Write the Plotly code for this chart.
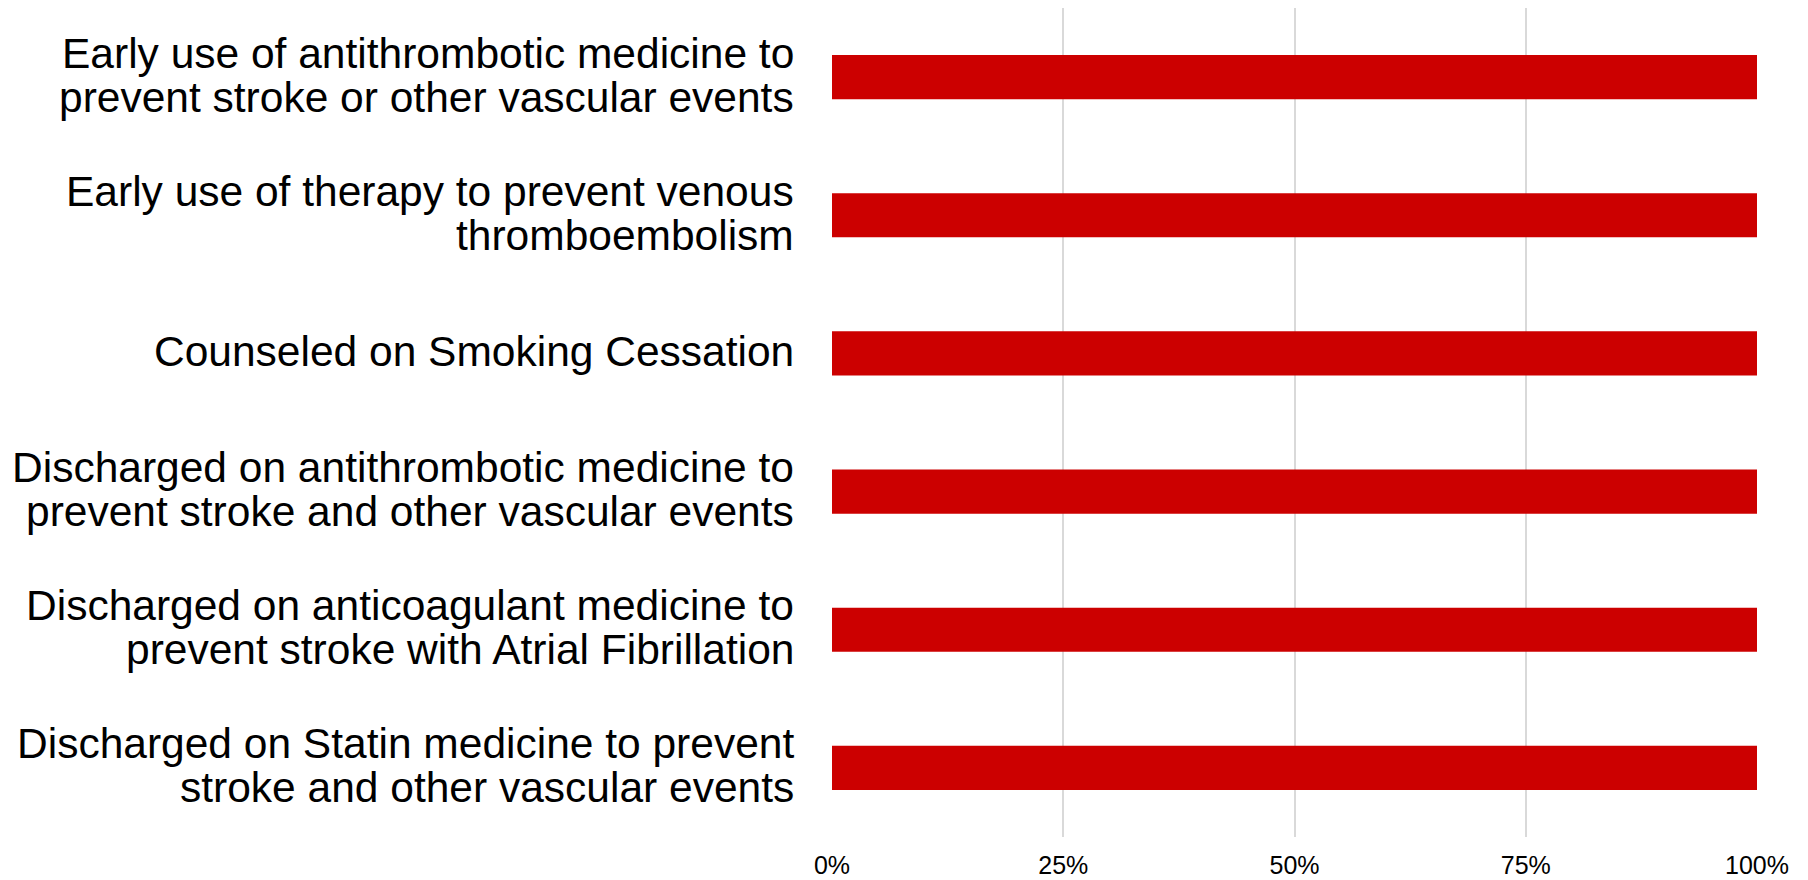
import plotly.graph_objects as go

categories = [
    "Early use of antithrombotic medicine to<br>prevent stroke or other vascular events",
    "Early use of therapy to prevent venous<br>thromboembolism",
    "Counseled on Smoking Cessation",
    "Discharged on antithrombotic medicine to<br>prevent stroke and other vascular events",
    "Discharged on anticoagulant medicine to<br>prevent stroke with Atrial Fibrillation",
    "Discharged on Statin medicine to prevent<br>stroke and other vascular events",
]
values = [1.0, 1.0, 1.0, 1.0, 1.0, 1.0]
x_ticks = [0, 0.25, 0.5, 0.75, 1.0]
x_tick_labels = ["0%", "25%", "50%", "75%", "100%"]

FONT = "Liberation Sans, Arial, sans-serif"
LABEL_SIZE = 42.5
LINE_STEP = 44

fig = go.Figure(go.Bar(
    x=values, y=categories, orientation="h",
    marker=dict(color="#CC0000", line=dict(width=0)),
    width=0.32,
))

# category labels: one annotation per text line for tight line spacing
for cat in categories:
    lines = cat.split("<br>")
    n = len(lines)
    for i, line in enumerate(lines):
        fig.add_annotation(
            x=0, xref="paper", xanchor="right", xshift=-36,
            y=cat, yref="y", yanchor="middle",
            yshift=((n - 1) / 2 - i) * LINE_STEP + 2,
            text=line, showarrow=False, align="right",
            font=dict(family=FONT, size=LABEL_SIZE, color="black"),
        )

# page body has an 8px margin, so the figure is sized to fill the rest of the window
fig.update_layout(
    width=1800, height=872,
    margin=dict(l=824, r=51, t=0, b=43),
    paper_bgcolor="white", plot_bgcolor="white",
    font=dict(family=FONT, color="black"),
    showlegend=False,
)
fig.update_xaxes(
    range=[0, 1.0], tickvals=x_ticks, ticktext=x_tick_labels,
    showgrid=True, gridcolor="#D9D9D9", gridwidth=2,
    zeroline=False, showline=False, automargin=False,
    tickfont=dict(size=25), ticks="", ticklabelstandoff=11,
)
fig.update_yaxes(
    autorange="reversed", showgrid=False, zeroline=False, showline=False,
    showticklabels=False, ticks="", automargin=False,
)

fig.write_html("out.html")
